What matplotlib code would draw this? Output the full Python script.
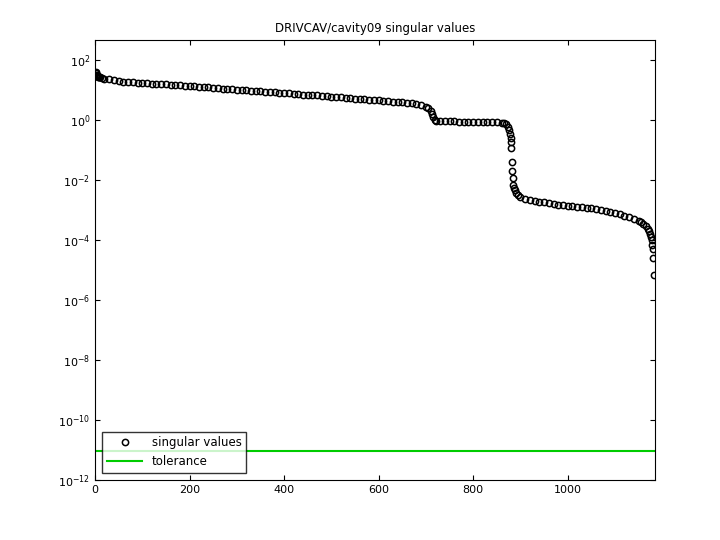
import numpy as np
import matplotlib
matplotlib.use("Agg")
import matplotlib.pyplot as plt

# singular values (index -> value)
idx = [1, 2, 3, 4, 5, 6, 7, 8, 9, 10, 15, 20, 30, 40, 50,
       60, 70, 80, 90, 100, 110, 120, 130, 140, 150, 160, 170, 180, 190, 200,
       210, 220, 230, 240, 250, 260, 270, 280, 290, 300, 310, 320, 330, 340, 350,
       360, 370, 380, 390, 400, 410, 420, 430, 440, 450, 460, 470, 480, 490, 500,
       510, 520, 530, 540, 550, 560, 570, 580, 590, 600, 610, 620, 630, 640, 650,
       660, 670, 680, 690, 700, 705, 710, 713, 716, 719, 722,
       730, 740, 750, 760, 770, 780, 790, 800, 810, 820, 830, 840, 850, 860,
       865, 870, 873, 876, 878, 879, 880, 881, 882, 883, 884, 885, 886, 888, 890,
       895, 900, 910, 920, 930, 940, 950, 960, 970, 980, 990, 1000, 1010, 1020,
       1030, 1040, 1050, 1060, 1070, 1080, 1090, 1100, 1110, 1120, 1130, 1140,
       1150, 1155, 1160, 1165, 1170, 1172, 1174, 1176, 1178, 1179, 1180, 1181, 1182]
sv = [40, 36, 33, 31, 30, 29, 28, 27.5, 27, 26.5, 25, 24, 22.5, 21, 20,
      19.0, 18.5, 18.1, 17.7, 17.3, 16.9, 16.5, 16.1, 15.8, 15.4, 15.0, 14.6, 14.3, 13.9, 13.5,
      13.2, 12.8, 12.5, 12.2, 11.8, 11.5, 11.2, 10.9, 10.6, 10.4, 10.1, 9.8, 9.6, 9.3, 9.1,
      8.8, 8.6, 8.4, 8.1, 7.9, 7.7, 7.5, 7.3, 7.1, 6.9, 6.7, 6.6, 6.4, 6.2, 6.0,
      5.9, 5.7, 5.5, 5.4, 5.2, 5.1, 4.9, 4.8, 4.7, 4.6, 4.4, 4.3, 4.1, 4.0, 3.9,
      3.7, 3.6, 3.4, 3.2, 2.8, 2.5, 2.0, 1.6, 1.25, 1.0, 0.92,
      0.91, 0.9, 0.9, 0.9, 0.89, 0.89, 0.88, 0.88, 0.87, 0.87, 0.86, 0.85, 0.83, 0.8,
      0.77, 0.72, 0.6, 0.45, 0.35, 0.25, 0.18, 0.12, 0.04, 0.02, 0.012, 0.007, 0.0055, 0.0045, 0.0038,
      0.0032, 0.0028, 0.0024, 0.0021, 0.002, 0.0019, 0.0018, 0.0017, 0.0016, 0.0015, 0.00145, 0.0014, 0.00135, 0.0013,
      0.00125, 0.0012, 0.00115, 0.0011, 0.001, 0.00095, 0.00088, 0.0008, 0.00072, 0.00065, 0.00058, 0.0005,
      0.00043, 0.0004, 0.00035, 0.0003, 0.00023, 0.0002, 0.00016, 0.00013, 0.0001, 7e-5, 5e-5, 2.5e-5, 7e-6]
tolerance = 9.5e-12

fig = plt.figure(figsize=(7.2, 5.4), dpi=100)
ax = fig.add_axes([0.132, 0.111, 0.778, 0.815])
ax.semilogy(idx, sv, "o", mfc="none", mec="black", mew=1.1, ms=4.5, label="singular values")
ax.axhline(tolerance, color="#00cc00", lw=1.5, label="tolerance")
ax.set_xlim(0, 1185)
ax.set_ylim(1e-12, 10 ** 2.67)
ax.set_yticks([10.0 ** k for k in range(-12, 3, 2)])
ax.minorticks_off()
ax.tick_params(direction="in", labelsize=8, top=True, right=True)
ax.set_title("DRIVCAV/cavity09 singular values", fontsize=8.5)
ax.legend(loc="lower left", fontsize=8.5, fancybox=False, edgecolor="black",
          borderaxespad=0.6, handlelength=3)
fig.savefig("out.png")
